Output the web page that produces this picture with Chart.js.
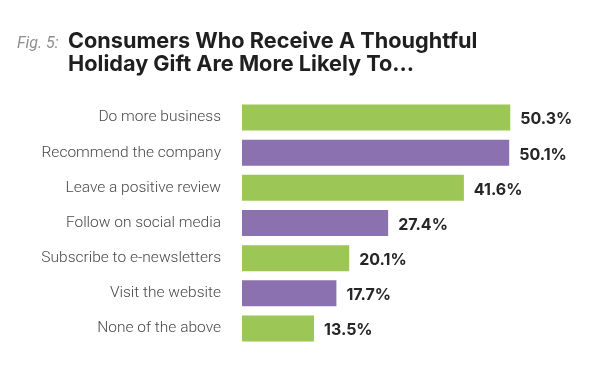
<!DOCTYPE html>
<html>
<head>
<meta charset="utf-8">
<script src="https://cdn.jsdelivr.net/npm/chart.js@4.4.1/dist/chart.umd.min.js"></script>
<style>
  html, body { margin: 0; padding: 0; background: #ffffff; }
  #wrap { position: relative; width: 600px; height: 371px; overflow: hidden; }
  #title { position: absolute; left: 17px; top: 29px; font-family: Inter, Roboto, "Liberation Sans", sans-serif; }
  #fig { position: absolute; left: 0; top: 4px; font-family: Roboto, sans-serif; font-style: italic; font-size: 16px; color: #8e8e8e; white-space: nowrap; }
  #main { position: absolute; left: 51px; top: 0; font-weight: 700; font-size: 21.7px; line-height: 23px; color: #1f1f1f; white-space: nowrap; }
  canvas { position: absolute; left: 0; top: 0; }
</style>
</head>
<body>
<div id="wrap">
  <canvas id="c" width="600" height="371"></canvas>
  <div id="title">
    <span id="fig">Fig. 5:</span>
    <div id="main">Consumers Who Receive A Thoughtful<br>Holiday Gift Are More Likely To...</div>
  </div>
</div>
<script>
const categories = [
  "Do more business",
  "Recommend the company",
  "Leave a positive review",
  "Follow on social media",
  "Subscribe to e-newsletters",
  "Visit the website",
  "None of the above"
];
const values = [50.3, 50.1, 41.6, 27.4, 20.1, 17.7, 13.5];
const valueLabels = ["50.3%", "50.1%", "41.6%", "27.4%", "20.1%", "17.7%", "13.5%"];
const GREEN = "#9cc655";
const PURPLE = "#8c71b0";
const barColors = categories.map((c, i) => i % 2 === 0 ? GREEN : PURPLE);

const valueLabelPlugin = {
  id: "valueLabels",
  afterDatasetsDraw(chart) {
    const ctx = chart.ctx;
    const meta = chart.getDatasetMeta(0);
    ctx.save();
    ctx.font = "700 16px Inter, Roboto, 'Liberation Sans', sans-serif";
    ctx.fillStyle = "#262626";
    ctx.textAlign = "left";
    ctx.textBaseline = "middle";
    meta.data.forEach((bar, i) => {
      ctx.fillText(valueLabels[i], bar.x + 10, bar.y + 2);
    });
    ctx.restore();
  }
};

new Chart(document.getElementById("c"), {
  type: "bar",
  data: {
    labels: categories,
    datasets: [{
      data: values,
      backgroundColor: barColors,
      borderWidth: 0,
      categoryPercentage: 1.0,
      barPercentage: 0.74
    }]
  },
  options: {
    indexAxis: "y",
    responsive: false,
    animation: false,
    events: [],
    layout: { padding: { top: 100, bottom: 25, left: 0, right: 38 } },
    plugins: { legend: { display: false }, tooltip: { enabled: false }, title: { display: false } },
    scales: {
      x: {
        display: false,
        min: 0,
        max: 60
      },
      y: {
        grid: { display: false },
        border: { display: false },
        afterFit(scale) { scale.width = 242; },
        ticks: {
          padding: 13,
          color: "#484848",
          font: { family: "Roboto, 'Liberation Sans', sans-serif", size: 15.5, weight: "300" }
        }
      }
    }
  },
  plugins: [valueLabelPlugin]
});
</script>
</body>
</html>
